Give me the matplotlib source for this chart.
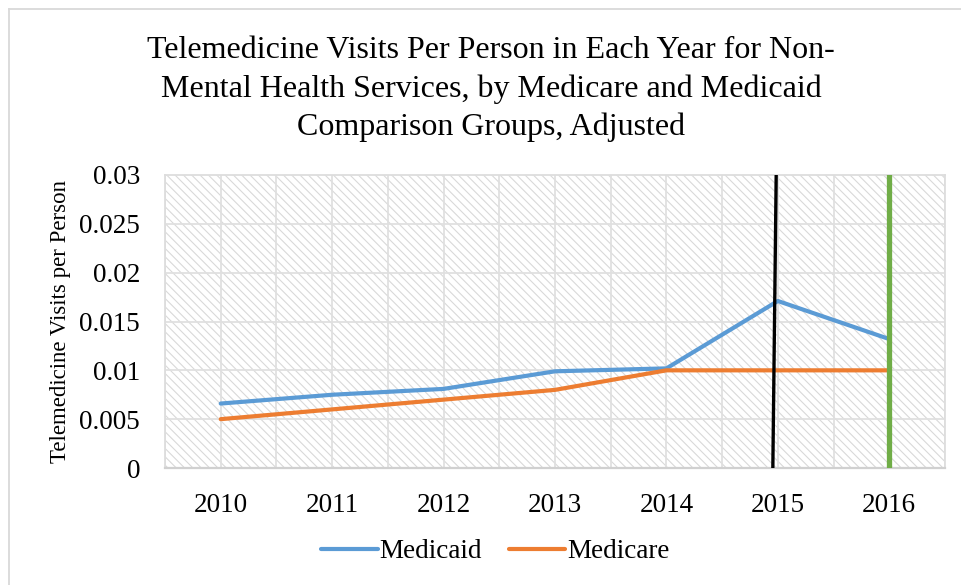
import matplotlib.pyplot as plt
from matplotlib.patches import Rectangle
from matplotlib.lines import Line2D

plt.rcParams['font.family'] = ['Liberation Serif', 'DejaVu Serif']
plt.rcParams['hatch.color'] = '#d9d9d9'
plt.rcParams['hatch.linewidth'] = 0.8

# Data
years = ['2010', '2011', '2012', '2013', '2014', '2015', '2016']
medicaid = [0.0066, 0.0075, 0.0081, 0.0099, 0.0102, 0.0171, 0.0132]
medicare = [0.0050, 0.0060, 0.0070, 0.0080, 0.0100, 0.0100, 0.0100]
# marker lines (category index, value) pairs
black_x = [4.955, 4.985]
black_y = [0.0, 0.03]
green_x = [6.0, 6.0]
green_y = [0.0, 0.03]

fig = plt.figure(figsize=(9.62, 5.85), dpi=100)
ax = fig.add_axes([165 / 962, 117 / 585, 780 / 962, 293 / 585])

# hatched plot background
ax.add_patch(Rectangle((0, 0), 1, 1, transform=ax.transAxes, facecolor='white',
                       edgecolor='#d9d9d9', lw=0, hatch='\\\\\\\\', zorder=0))

xs = range(len(years))
ax.plot(xs, medicaid, color='#5B9BD5', lw=3, solid_capstyle='round', zorder=3, label='Medicaid')
ax.plot(xs, medicare, color='#ED7D31', lw=3, solid_capstyle='round', zorder=3, label='Medicare')
ax.plot(black_x, black_y, color='black', lw=2.4, zorder=4)
ax.plot(green_x, green_y, color='#70AD47', lw=3.8, zorder=4)

ax.set_xlim(-0.5, 6.5)
ax.set_ylim(0, 0.03)
ax.set_xticks(list(xs))
ax.set_xticklabels(years)
ax.set_yticks([0, 0.005, 0.01, 0.015, 0.02, 0.025, 0.03])
ax.set_yticklabels(['0', '0.005', '0.01', '0.015', '0.02', '0.025', '0.03'])
ax.tick_params(length=0, labelsize=19.5)
ax.tick_params(axis='x', pad=18)
ax.tick_params(axis='y', pad=18)

for v in [0.005, 0.01, 0.015, 0.02, 0.025]:
    ax.axhline(v, color='#e0e0e0', lw=1.3, zorder=1)
for i in range(15):
    ax.axvline(-0.5 + 0.5 * i, color='#e0e0e0', lw=1.3, zorder=1)
for s in ax.spines.values():
    s.set_color('#dddddd')
    s.set_linewidth(1.3)
ax.spines['bottom'].set_color('#d0d0d0')
ax.spines['bottom'].set_linewidth(1.6)

ax.set_ylabel('Telemedicine Visits per Person', fontsize=16.5)
ax.yaxis.set_label_coords(-0.12, 0.5)

fig.text(491 / 962, 1 - 89 / 585,
         'Telemedicine Visits Per Person in Each Year for Non-\n'
         'Mental Health Services, by Medicare and Medicaid\n'
         'Comparison Groups, Adjusted',
         ha='center', va='center', fontsize=23, linespacing=1.38)

handles = [Line2D([], [], color='#5B9BD5', lw=3, solid_capstyle='round'),
           Line2D([], [], color='#ED7D31', lw=3, solid_capstyle='round')]
fig.legend(handles, ['Medicaid', 'Medicare'], loc='center', bbox_to_anchor=(495 / 962, 1 - 552 / 585),
           ncol=2, frameon=False, fontsize=19.5, handlelength=2.1, handletextpad=0.05,
           columnspacing=1.0)

# outer chart border (left and top visible)
fig.add_artist(Line2D([8.5 / 962, 8.5 / 962], [0, 1 - 8.5 / 585], color='#d9d9d9', lw=1.3,
                      transform=fig.transFigure))
fig.add_artist(Line2D([8.5 / 962, 1], [1 - 8.5 / 585, 1 - 8.5 / 585], color='#d9d9d9', lw=1.3,
                      transform=fig.transFigure))

fig.savefig('out.png', dpi=100)
